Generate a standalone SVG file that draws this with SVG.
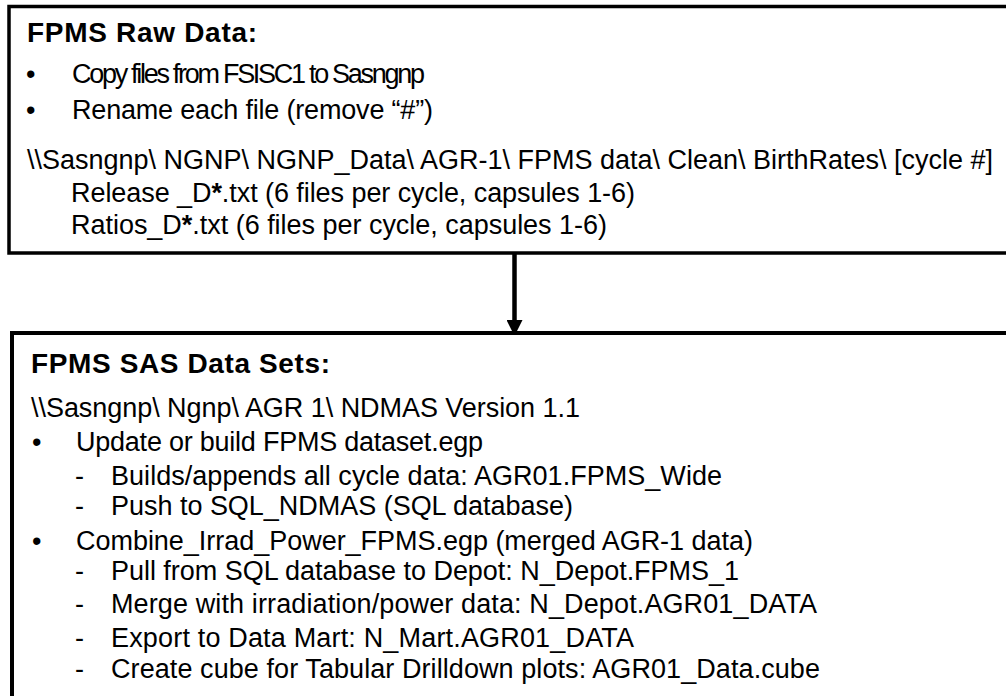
<svg xmlns="http://www.w3.org/2000/svg" width="1006" height="696" viewBox="0 0 1006 696">
  <defs>
    <style>
      .box { fill: #ffffff; stroke: #000000; stroke-width: 3.5; }
      .t { font-family: "Liberation Sans", Arial, sans-serif; font-size: 27px; fill: #000000; }
      .h { font-family: "Liberation Sans", Arial, sans-serif; font-size: 28px; font-weight: bold; fill: #000000; }
      .conn { stroke: #000000; stroke-width: 4.5; fill: none; }
    </style>
    <marker id="arrow" viewBox="0 0 16 16" refX="15" refY="8" markerWidth="16" markerHeight="16" markerUnits="userSpaceOnUse" orient="auto">
      <path d="M0,0 L16,8 L0,16 Z" fill="#000000"/>
    </marker>
  </defs>
  <rect x="0" y="0" width="1006" height="696" fill="#ffffff"/>

  <g id="connectors">
    <line class="conn" x1="514.5" y1="253" x2="514.5" y2="335" marker-end="url(#arrow)"/>
  </g>

  <g id="node-raw-data">
    <rect class="box" x="9" y="6.5" width="1010" height="246.5"/>
    <text class="h" x="27" y="42" textLength="230" lengthAdjust="spacing">FPMS Raw Data:</text>
    <text class="t" x="26" y="83">•</text>
    <text class="t" x="72" y="83" textLength="353" lengthAdjust="spacing">Copy files from FSISC1 to Sasngnp</text>
    <text class="t" x="26" y="119">•</text>
    <text class="t" x="72" y="119" textLength="361" lengthAdjust="spacing">Rename each file (remove “#”)</text>
    <text class="t" x="27" y="169" textLength="966" lengthAdjust="spacing">\\Sasngnp\ NGNP\ NGNP_Data\ AGR-1\ FPMS data\ Clean\ BirthRates\ [cycle #]</text>
    <text class="t" x="71" y="202" textLength="564" lengthAdjust="spacing">Release _D<tspan font-weight="bold">*</tspan>.txt (6 files per cycle, capsules 1-6)</text>
    <text class="t" x="71" y="234" textLength="536" lengthAdjust="spacing">Ratios_D<tspan font-weight="bold">*</tspan>.txt (6 files per cycle, capsules 1-6)</text>
  </g>

  <g id="node-sas-data-sets">
    <rect class="box" x="12" y="333" width="1010" height="380" style="stroke-width:4"/>
    <text class="h" x="31" y="373" textLength="299" lengthAdjust="spacing">FPMS SAS Data Sets:</text>
    <text class="t" x="31" y="417" textLength="549" lengthAdjust="spacing">\\Sasngnp\ Ngnp\ AGR 1\ NDMAS Version 1.1</text>
    <text class="t" x="32" y="451">•</text>
    <text class="t" x="76" y="451" textLength="407" lengthAdjust="spacing">Update or build FPMS dataset.egp</text>
    <text class="t" x="75" y="485">-</text>
    <text class="t" x="111" y="485" textLength="611" lengthAdjust="spacing">Builds/appends all cycle data: AGR01.FPMS_Wide</text>
    <text class="t" x="75" y="515">-</text>
    <text class="t" x="111" y="515" textLength="462" lengthAdjust="spacing">Push to SQL_NDMAS (SQL database)</text>
    <text class="t" x="32" y="550">•</text>
    <text class="t" x="76" y="550" textLength="677" lengthAdjust="spacing">Combine_Irrad_Power_FPMS.egp (merged AGR-1 data)</text>
    <text class="t" x="75" y="580">-</text>
    <text class="t" x="111" y="580" textLength="628" lengthAdjust="spacing">Pull from SQL database to Depot: N_Depot.FPMS_1</text>
    <text class="t" x="75" y="613">-</text>
    <text class="t" x="111" y="613" textLength="706" lengthAdjust="spacing">Merge with irradiation/power data: N_Depot.AGR01_DATA</text>
    <text class="t" x="75" y="647">-</text>
    <text class="t" x="111" y="647" textLength="523" lengthAdjust="spacing">Export to Data Mart: N_Mart.AGR01_DATA</text>
    <text class="t" x="75" y="678">-</text>
    <text class="t" x="111" y="678" textLength="709" lengthAdjust="spacing">Create cube for Tabular Drilldown plots: AGR01_Data.cube</text>
  </g>
</svg>
